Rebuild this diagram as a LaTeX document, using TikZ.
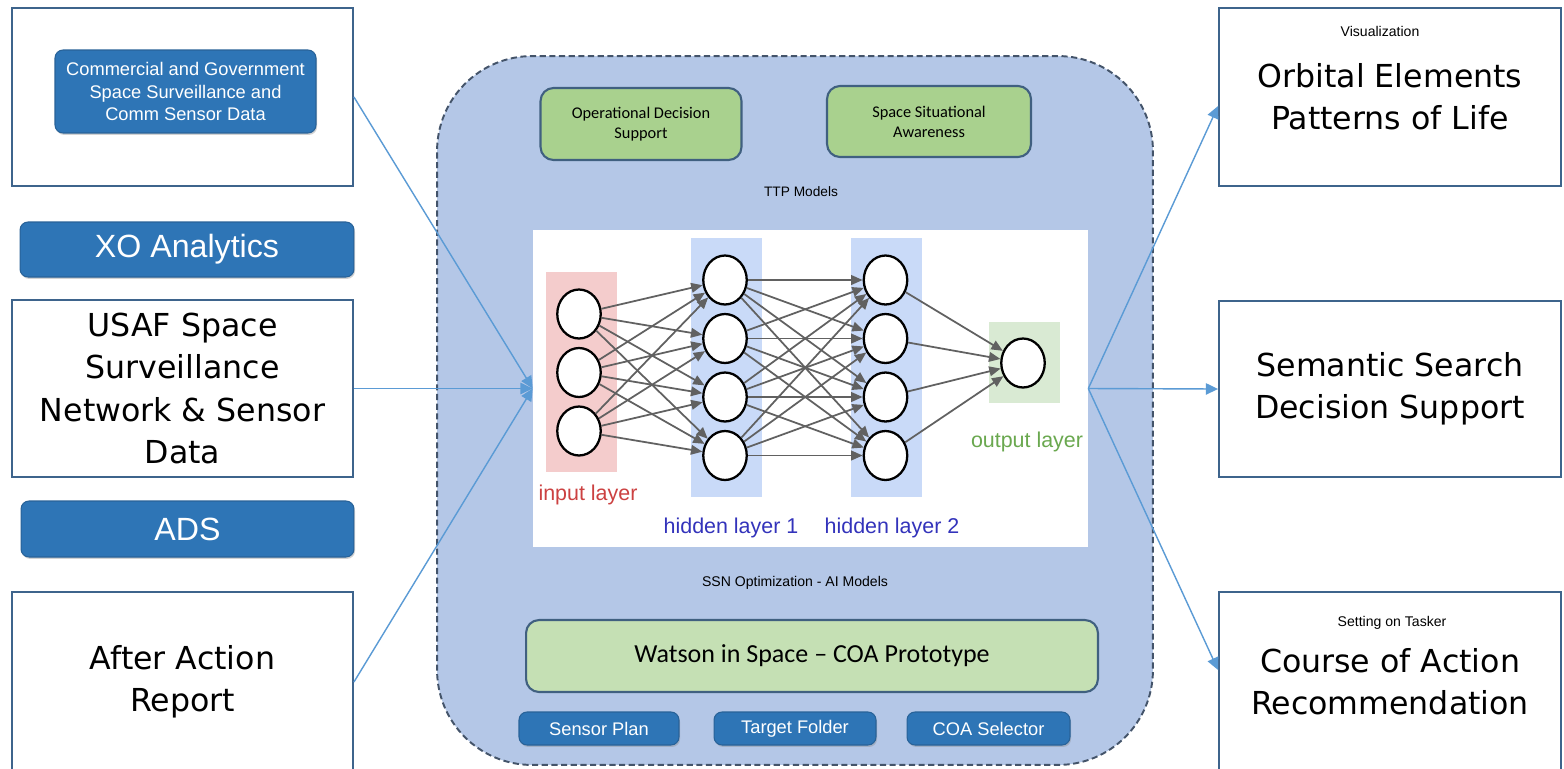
\documentclass[tikz,border=0pt]{standalone}
\usepackage{fontspec}
\setmainfont{Liberation Sans}
\newfontfamily\handfont{DejaVu Sans}
\newfontfamily\calfont{Carlito}
\usetikzlibrary{arrows.meta,shapes.geometric,shadows}

\definecolor{boxline}{RGB}{62,100,140}
\definecolor{btnblue}{RGB}{46,117,182}
\definecolor{btnedge}{RGB}{40,98,152}
\definecolor{hubfill}{RGB}{180,199,231}
\definecolor{hubedge}{RGB}{68,84,106}
\definecolor{leafgreen}{RGB}{169,209,142}
\definecolor{palegreen}{RGB}{197,224,180}
\definecolor{greenedge}{RGB}{64,96,128}
\definecolor{linkblue}{RGB}{91,155,213}
\definecolor{inpink}{RGB}{244,204,204}
\definecolor{hidblue}{RGB}{201,218,248}
\definecolor{outgreen}{RGB}{217,234,211}
\definecolor{inred}{RGB}{204,65,65}
\definecolor{hidtext}{RGB}{51,51,187}
\definecolor{outtext}{RGB}{106,168,79}

\begin{document}
\begin{tikzpicture}[
  x=0.02cm,
  y=-0.02cm,
  >={Triangle[length=7pt,width=6.5pt]},
  srcbox/.style={rectangle, draw=boxline, line width=1.1pt, fill=white, inner sep=0pt, align=center, font=\handfont\fontsize{18}{24}\selectfont},
  btn/.style={rectangle, rounded corners=0.16cm, draw=btnedge, line width=0.6pt, fill=btnblue, text=white, inner sep=0pt, align=center, drop shadow={opacity=0.35, shadow xshift=0.6pt, shadow yshift=-1.1pt}},
  hub/.style={rectangle, rounded corners=1.9cm, draw=hubedge, line width=1.1pt, dash pattern=on 3.5pt off 2pt, fill=hubfill},
  task/.style={rectangle, rounded corners=0.26cm, draw=greenedge, line width=1.2pt, fill=leafgreen, inner sep=0pt, align=center, font=\calfont\fontsize{9.3}{11.4}\selectfont},
  caption/.style={inner sep=0pt, font=\fontsize{7.8}{9}\selectfont},
  note/.style={inner sep=0pt, font=\fontsize{8}{9}\selectfont},
  band/.style={rectangle, draw=none, inner sep=0pt, minimum width=1.42cm},
  neuron/.style={ellipse, draw=black, line width=1.3pt, fill=white, minimum width=0.87cm, minimum height=0.98cm, inner sep=0pt},
  nnedge/.style={-{Triangle[length=6.5pt,width=5.5pt]}, line width=1pt, draw=black!62, fill=black!62},
  layername/.style={inner sep=0pt, font=\fontsize{12.2}{14}\selectfont},
  link/.style={->, line width=0.8pt, draw=linkblue, fill=linkblue},
]

\useasboundingbox (0,0) rectangle (1564,768);
\fill[white] (0,0) rectangle (1564,768);
\clip (0,0) rectangle (1564,768);

\node[hub, minimum width=14.32cm, minimum height=14.18cm] (hub) at (795,410.5) {};

\node[srcbox, minimum width=6.82cm, minimum height=3.56cm] (cmdata) at (182.5,97) {};
\node[btn, minimum width=5.22cm, minimum height=1.66cm, font=\fontsize{10.4}{12.8}\selectfont] (cmbox) at (185.5,91.5) {Commercial and Government\\Space Surveillance and\\Comm Sensor Data};
\node[btn, minimum width=6.68cm, minimum height=1.1cm, font=\fontsize{18.3}{22}\selectfont] (xo) at (187,249.5) {XO Analytics};
\node[srcbox, minimum width=6.82cm, minimum height=3.54cm] (usaf) at (182.5,388.5) {USAF Space\\Surveillance\\Network \& Sensor\\Data};
\node[btn, minimum width=6.66cm, minimum height=1.12cm, font=\fontsize{18.3}{22}\selectfont] (ads) at (187.5,529) {ADS};
\node[srcbox, minimum width=6.82cm, minimum height=3.6cm] (aar) at (182.5,682) {After Action\\Report};

\node[srcbox, minimum width=6.84cm, minimum height=3.56cm] (orbit) at (1390,97) {Orbital Elements\\Patterns of Life};
\node[note] (vis) at (1380,31) {Visualization};
\node[srcbox, minimum width=6.84cm, minimum height=3.52cm] (semantic) at (1390,389) {Semantic Search\\Decision Support};
\node[srcbox, minimum width=6.84cm, minimum height=3.6cm] (coa) at (1390,682) {Course of Action\\Recommendation};
\node[note] (tasker) at (1392,623) {Setting on Tasker};

\node[task, minimum width=4.02cm, minimum height=1.44cm] (ops) at (641,124) {Operational Decision\\Support};
\node[task, minimum width=4.08cm, minimum height=1.42cm] (ssa) at (929,121.5) {Space Situational\\Awareness};
\node[caption] (ttp) at (801,192) {TTP Models};

\node[rectangle, fill=white, inner sep=0pt, minimum width=11.1cm, minimum height=6.34cm] (nnpanel) at (810.5,388.5) {};
\node[band, fill=inpink, minimum height=4cm] (inband) at (581.5,372) {};
\node[band, fill=hidblue, minimum height=5.18cm] (haband) at (726.5,367.5) {};
\node[band, fill=hidblue, minimum height=5.18cm] (hbband) at (886.5,367.5) {};
\node[band, fill=outgreen, minimum height=1.62cm] (outband) at (1024.5,362.5) {};

\foreach \i in {0,1,2}
  \node[neuron] (in\i) at (579,314+58.5*\i) {};
\foreach \j in {0,...,3} {
  \node[neuron] (ha\j) at (725,280+58.5*\j) {};
  \node[neuron] (hb\j) at (885.5,280+58.5*\j) {};
}
\node[neuron] (out) at (1023,363) {};

\foreach \i in {0,1,2}
  \foreach \j in {0,...,3}
    \draw[nnedge] (in\i) -- (ha\j);
\foreach \i in {0,...,3}
  \foreach \j in {0,...,3}
    \draw[nnedge] (ha\i) -- (hb\j);
\foreach \i in {0,...,3}
  \draw[nnedge] (hb\i) -- (out);

\node[layername, text=inred] (inname) at (588,495) {input layer};
\node[layername, text=hidtext] (haname) at (731,528) {hidden layer 1};
\node[layername, text=hidtext] (hbname) at (892,528) {hidden layer 2};
\node[layername, text=outtext] (outname) at (1027,442) {output layer};

\node[caption, font=\fontsize{8}{9}\selectfont] (ssn) at (795,583) {SSN Optimization - AI Models};
\node[task, fill=palegreen, minimum width=11.44cm, minimum height=1.44cm, font=\calfont\fontsize{14.8}{17}\selectfont] (watson) at (812,656) {Watson in Space – COA Prototype};
\node[btn, minimum width=3.2cm, minimum height=0.66cm, font=\fontsize{10.4}{12}\selectfont] (sensorplan) at (599,728.5) {Sensor Plan};
\node[btn, minimum width=3.24cm, minimum height=0.66cm, font=\fontsize{10.4}{12}\selectfont] (target) at (795,728.5) {Target Folder};
\node[btn, minimum width=3.26cm, minimum height=0.66cm, font=\fontsize{10.4}{12}\selectfont] (selector) at (988.5,728.5) {COA Selector};

\draw[link] (cmdata.east) -- (nnpanel.west);
\draw[link] (usaf.east) -- (nnpanel.west);
\draw[link] (aar.east) -- (nnpanel.west);
\draw[link] (nnpanel.east) -- (orbit.183);
\draw[link] (nnpanel.east) -- (semantic.west);
\draw[link] (nnpanel.east) -- (coa.176);

\end{tikzpicture}
\end{document}
